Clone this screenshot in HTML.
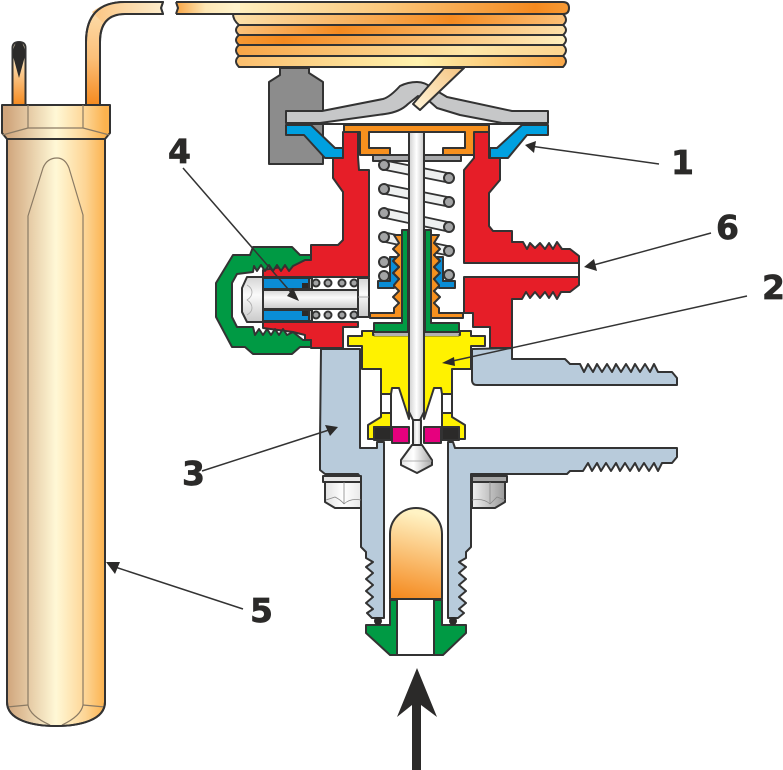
<!DOCTYPE html>
<html><head><meta charset="utf-8"><style>
html,body{margin:0;padding:0;background:#fff;width:783px;height:770px;overflow:hidden}
svg{display:block}
text{font-family:"DejaVu Sans","Liberation Sans",sans-serif;font-weight:bold;font-size:33px;fill:#2b2a29;stroke:#2b2a29;stroke-width:.7}
</style></head><body>
<svg width="783" height="770" viewBox="0 0 783 770" xmlns="http://www.w3.org/2000/svg">
<defs>
<linearGradient id="bulb" gradientUnits="userSpaceOnUse" x1="7" y1="0" x2="105" y2="0"><stop offset="0" stop-color="#d0a57c"/><stop offset=".5" stop-color="#fff8d6"/><stop offset=".8" stop-color="#fdd595"/><stop offset="1" stop-color="#fbb24e"/></linearGradient>
<linearGradient id="tube1" gradientUnits="userSpaceOnUse" x1="0" y1="105" x2="0" y2="10"><stop offset="0" stop-color="#f58a1f"/><stop offset=".5" stop-color="#fbc07a"/><stop offset="1" stop-color="#fddcaa"/></linearGradient>
<linearGradient id="tubeT" gradientUnits="userSpaceOnUse" x1="100" y1="0" x2="163" y2="0"><stop offset="0" stop-color="#fbc98a"/><stop offset="1" stop-color="#fdeccb"/></linearGradient>
<linearGradient id="tubeU" gradientUnits="userSpaceOnUse" x1="176" y1="0" x2="235" y2="0"><stop offset="0" stop-color="#f8a545"/><stop offset=".5" stop-color="#fde6b5"/><stop offset="1" stop-color="#fff3cc"/></linearGradient>
<linearGradient id="r1" gradientUnits="userSpaceOnUse" x1="233" y1="0" x2="569" y2="0"><stop offset="0" stop-color="#fff0c0"/><stop offset=".45" stop-color="#fbc87c"/><stop offset=".9" stop-color="#f58a1f"/><stop offset="1" stop-color="#f79a35"/></linearGradient>
<linearGradient id="r2" gradientUnits="userSpaceOnUse" x1="233" y1="0" x2="569" y2="0"><stop offset="0" stop-color="#fde2ac"/><stop offset=".65" stop-color="#f58a1f"/><stop offset="1" stop-color="#fcc27a"/></linearGradient>
<linearGradient id="r3" gradientUnits="userSpaceOnUse" x1="233" y1="0" x2="569" y2="0"><stop offset="0" stop-color="#fcc47e"/><stop offset=".32" stop-color="#f58a1f"/><stop offset="1" stop-color="#fde2ac"/></linearGradient>
<linearGradient id="r4" gradientUnits="userSpaceOnUse" x1="233" y1="0" x2="569" y2="0"><stop offset="0" stop-color="#f79a35"/><stop offset=".15" stop-color="#f58a1f"/><stop offset="1" stop-color="#fff0c0"/></linearGradient>
<linearGradient id="r5" gradientUnits="userSpaceOnUse" x1="233" y1="0" x2="569" y2="0"><stop offset="0" stop-color="#f8a445"/><stop offset=".7" stop-color="#fde6a8"/><stop offset="1" stop-color="#fdd48f"/></linearGradient>
<linearGradient id="r6" gradientUnits="userSpaceOnUse" x1="233" y1="0" x2="569" y2="0"><stop offset="0" stop-color="#fbbd6c"/><stop offset=".55" stop-color="#fff2ae"/><stop offset="1" stop-color="#f9a545"/></linearGradient>
<linearGradient id="stem" x1="0" y1="0" x2="1" y2="0"><stop offset="0" stop-color="#cfcfcf"/><stop offset=".5" stop-color="#fff"/><stop offset="1" stop-color="#c8c8c8"/></linearGradient>
<linearGradient id="nutL" x1="0" y1="0" x2="1" y2="0"><stop offset="0" stop-color="#e2e2e2"/><stop offset=".5" stop-color="#fff"/><stop offset="1" stop-color="#e8e8e8"/></linearGradient>
<linearGradient id="nutR" x1="0" y1="0" x2="1" y2="0"><stop offset="0" stop-color="#f0f0f0"/><stop offset="1" stop-color="#9a9a9a"/></linearGradient>
<linearGradient id="cyl" x1="0" y1="0" x2="0" y2="1"><stop offset="0" stop-color="#d5d5d5"/><stop offset=".4" stop-color="#fafafa"/><stop offset="1" stop-color="#c9c9c9"/></linearGradient>
<linearGradient id="cone" x1="0" y1="0" x2="1" y2="0"><stop offset="0" stop-color="#e5e5e5"/><stop offset=".4" stop-color="#fff"/><stop offset="1" stop-color="#a8a8a8"/></linearGradient>
<linearGradient id="dome" gradientUnits="userSpaceOnUse" x1="425" y1="515" x2="405" y2="600"><stop offset="0" stop-color="#fff3c4"/><stop offset="1" stop-color="#f58a1f"/></linearGradient>
<linearGradient id="rod" gradientUnits="userSpaceOnUse" x1="420" y1="105" x2="455" y2="70"><stop offset="0" stop-color="#fff0d0"/><stop offset="1" stop-color="#f6c98a"/></linearGradient>
<linearGradient id="sm" gradientUnits="userSpaceOnUse" x1="0" y1="105" x2="0" y2="55"><stop offset="0" stop-color="#f58a1f"/><stop offset="1" stop-color="#fdeccb"/></linearGradient>
</defs>

<g stroke="#333" stroke-width="2" stroke-linejoin="round">
<!-- sensing bulb tubes -->
<path d="M12.500 105V48Q12.500 42 19 42Q25.500 42 25.500 48V105Z" fill="url(#sm)"/>
<path d="M13 56Q13 42 19 42Q25 42 25 56L19 78Z" fill="#2b2a29" stroke="none"/>
<path d="M86 105V42Q86 2 125 2H163L161 8L163 14H125Q100 14 100 42V105Z" fill="url(#tube1)"/>
<path d="M125 2H162.500L161 8L163 14H125Q110 14 104 24L92 12Q104 2 125 2Z" fill="url(#tubeT)" stroke="none"/>
<path d="M86 105V42Q86 2 125 2H163L161 8L163 14H125Q100 14 100 42V105" fill="none"/>
<!-- bulb -->
<path d="M7 139H105V702C105 720 80 726 56 726C32 726 7 720 7 702Z" fill="url(#bulb)"/>
<path d="M2 105H110V133L105 139H7L2 133Z" fill="url(#bulb)"/>
<g fill="none" stroke="#8a7a64" stroke-width="1.200">
<path d="M28 105V128H83V105M2.500 135L28 128M109.500 135L83 128"/>
<path d="M28 705V216L43 168Q47 158 57 158Q65 158 69 168L83 215V705"/>
<path d="M28 705Q30 716 50 725M83 705Q81 716 62 725M7 707L28 705M105 707L83 705"/>
</g>
<path d="M7 139V702C7 720 32 726 56 726C80 726 105 720 105 702V139" fill="none"/>

<!-- bracket -->
<path d="M280 68H309V73L323 82V164H269V82L280 75Z" fill="#8c8c8c"/>

<!-- coil -->
<path d="M176 2H564Q569 2 569 8Q569 14 564 14H176L178 8Z" fill="url(#tubeU)" stroke="none"/>
<path d="M233 14H563Q569 20 563 25H239Q233 20 233 14Z" fill="url(#r2)"/>
<path d="M239 25H563Q569 30 563 35H239Q233 30 239 25Z" fill="url(#r3)"/>
<path d="M239 35H563Q569 40 563 45H239Q233 40 239 35Z" fill="url(#r4)"/>
<path d="M239 45H563Q569 50 563 56H239Q233 50 239 45Z" fill="url(#r5)"/>
<path d="M239 56H563Q569 61 563 67H239Q233 61 239 56Z" fill="url(#r6)"/>
<path d="M240 2H563Q569 2 569 8Q569 14 563 14H240Z" fill="url(#r1)" stroke="none"/>
<path d="M176 2H563Q569 2 569 8Q569 14 563 14H240M176 14H240M176 2L178 8L176 14" fill="none"/>

<!-- diaphragm -->
<path d="M286 111H322L383 99Q390 97 400 86Q408 82 417 82Q425 82 432 88L447 97L512 111H548V123H502L460 115L437 108L428 100L418 96L408 104Q400 112 385 114L320 123H286Z" fill="#c6c7c8"/>
<path d="M444 68H464L420 110L413 104Z" fill="url(#rod)"/>
<path d="M286 125H311L335 148H343V158H325L304 135H286Z" fill="#00a0e0"/>
<path d="M548 125H522L497 148H490V158H508L527 135H548Z" fill="#00a0e0"/>
<path d="M286 124H548" fill="none"/>

<!-- spring -->
<g stroke-linecap="butt">
<path d="M384 165L449 178M384 189L449 202M384 213L449 227M384 237L449 251" stroke="#333" stroke-width="11" fill="none"/>
<path d="M384 165L449 178M384 189L449 202M384 213L449 227M384 237L449 251" stroke="#eef0f0" stroke-width="7.500" fill="none"/>
</g>

<!-- red body -->
<path d="M343 132H358V157L359 170H369V277H263V270L294 265L305 260V255H311V245H338L343 240V192L333 178V158H343Z" fill="#e61e28"/>
<path d="M263 322H358V327H343V348H311V340H305V335L293 332L263 328Z" fill="#e61e28"/>
<path d="M474 132H489V158H500V180L489 193V226L493 231H512V242H523L527 249L530 243L535 248L540 243L545 249L549 243L553 249L557 242L562 249H570L579 256V263H464V170L474 158Z" fill="#e61e28"/>
<path d="M464 277H579V285L570 292H561L557 299L553 292L549 298L545 292L540 298L535 292L530 298L526 292L522 299H512V348H490V327H473V313H464Z" fill="#e61e28"/>
<path d="M579 262V278" fill="none"/>

<!-- orange cap -->
<path d="M344 125H489V132H474V155H443V148H465V132H369V148H390V155H360V132H344Z" fill="#f7901e"/>
<rect x="373" y="155" width="88" height="6" fill="#a8a9ab"/>

<!-- body -->
<path d="M321 349H360V448H377V442H384V618H372L367 613L373 609L366 603L373 597L366 591L373 585L366 579L373 573L366 567L373 562L366 558V552L361 547V478L358 474H325L320 470V440Z" fill="#b8cbdb"/>
<path d="M448 442H453L455 448H677V457L672 463H662L658 471L654 463L649 471L644 463L639 471L635 463L630 471L625 463L620 471L616 463L611 471L606 463L601 471L597 463L592 471L588 463L583 471H570L567 474H471V547L466 552V558L459 562L466 567L459 573L466 579L459 585L466 591L459 597L466 603L459 609L464 613L458 618H448Z" fill="#b8cbdb"/>
<path d="M472 349L512 348V359H565L570 364H580L584 372L588 364L593 372L597 364L602 372L607 364L612 372L616 364L621 372L626 364L631 372L635 364L640 372L645 364L650 372L654 364L658 372H672L677 378V385H477Q472 385 472 380Z" fill="#b8cbdb"/>

<!-- nuts -->
<path d="M323 476H361V482H323Z" fill="#e6e6e6"/>
<path d="M325 482H361V508H335L325 502Z" fill="url(#nutL)"/>
<path d="M472 476H507V482H472Z" fill="#a5a5a5"/>
<path d="M472 482H505V502L495 508H472Z" fill="url(#nutR)"/>
<path d="M326 500L335 497Q341 500 344 504M344 482V504M361 500Q350 498 344 504M472 500Q484 498 490 504M490 482V504M505 500L497 497L490 504" fill="none" stroke="#888" stroke-width=".8"/>

<!-- bushing & bellows -->
<path d="M402 230H408V332H374V323H402Z" fill="#009a44"/>
<path d="M425 230H431V323H459V332H425Z" fill="#009a44"/>
<path d="M348 336H362V331H373V335H409V419L399 388H392L391 394H381V369H362V346H348Z" fill="#fff200"/>
<path d="M485 336H471V331H460V335H424V419L434 388H441L442 394H452V369H471V346H485Z" fill="#fff200"/>
<path d="M374 334H459V336H374Z" fill="#fff" stroke-width=".8"/>
<path d="M394 235H402V318H370V313H394V308L399 303L393 297L399 291L393 285L399 279L393 273L399 267L393 261L399 255L393 249L399 243Z" fill="#f7901e"/>
<path d="M439 235H431V318H463V313H439V308L434 303L440 297L434 291L440 285L434 279L440 273L434 267L440 261L434 255L440 249L434 243Z" fill="#f7901e"/>
<path d="M390 257H396L393 261L399 267L393 273L399 279L394 285V288H378V281H390Z" fill="#0a8dd6"/>
<path d="M443 257H437L440 261L434 267L440 273L434 279L439 285V288H455V281H443Z" fill="#0a8dd6"/>
<g fill="#a3a4a5">
<circle cx="384" cy="165" r="5"/><circle cx="384" cy="189" r="5"/><circle cx="384" cy="213" r="5"/><circle cx="384" cy="237" r="5"/><circle cx="384" cy="262" r="5"/><circle cx="384" cy="276" r="5"/>
<circle cx="449" cy="178" r="5"/><circle cx="449" cy="202" r="5"/><circle cx="449" cy="227" r="5"/><circle cx="449" cy="251" r="5"/><circle cx="449" cy="275" r="5"/>
</g>

<!-- lower yellow and seals -->
<rect x="381" y="394" width="10" height="19" fill="#fff"/>
<rect x="442" y="394" width="10" height="19" fill="#fff"/>
<path d="M381 413H391V427H374V439H368V425L381 417Z" fill="#fff200"/>
<path d="M452 413H442V427H459V439H465V425L452 417Z" fill="#fff200"/>
<rect x="374" y="427" width="17" height="13" fill="#2b2a29"/>
<rect x="442" y="427" width="17" height="13" fill="#2b2a29"/>
<rect x="392" y="427" width="17" height="16" fill="#e6007e"/>
<rect x="424" y="427" width="17" height="16" fill="#e6007e"/>

<!-- stem -->
<rect x="413" y="420" width="8" height="25" fill="url(#stem)"/>
<path d="M412 445H422L432 460V465L417 473L401 465V460Z" fill="url(#cone)"/>
<path d="M401.500 461H432" fill="none" stroke="#999" stroke-width=".8"/>
<path d="M409 132H424V412L420 420H413L409 412Z" fill="url(#stem)"/>

<!-- green nut -->
<path d="M216 283L233 255H250L253 247H292L300 255H311V260H305L293 266L289 271L285 265L281 271L277 265L273 271L269 265L265 271L261 265L257 271L254 266L253 272L237 274L232 283V317L237 327H253L255 335L259 329L263 335L267 329L271 335L275 329L279 335L283 329L287 335L293 332L303 340H311V347H300L292 354H253L245 347H232L216 317Z" fill="#009a44"/>

<!-- bolt -->
<path d="M242 288L247 277H263V322H247L242 312Z" fill="url(#cyl)"/>
<rect x="263" y="290" width="95" height="19" fill="url(#cyl)"/>
<rect x="263" y="278" width="46" height="11" fill="#0a8dd6"/>
<rect x="263" y="310" width="46" height="11" fill="#0a8dd6"/>
<rect x="309" y="278" width="3" height="11" fill="#bbb"/>
<rect x="309" y="310" width="3" height="11" fill="#bbb"/>
<rect x="302" y="283" width="6" height="5" fill="#2b2a29" stroke="none"/>
<rect x="302" y="311" width="6" height="5" fill="#2b2a29" stroke="none"/>
<g fill="#a3a4a5">
<circle cx="316" cy="283" r="3.500"/><circle cx="328" cy="283" r="3.500"/><circle cx="342" cy="283" r="3.500"/><circle cx="354" cy="283" r="3.500"/>
<circle cx="316" cy="315" r="3.500"/><circle cx="328" cy="315" r="3.500"/><circle cx="342" cy="315" r="3.500"/><circle cx="354" cy="315" r="3.500"/>
</g>
<rect x="358" y="278" width="11" height="39" fill="url(#cyl)"/>
<path d="M358 297H369" fill="none" stroke="#999" stroke-width=".8"/>
<path d="M247 285Q252 288 252 292Q252 297 247 300Q252 303 252 308Q252 312 247 315" fill="none" stroke="#aaa" stroke-width=".8"/>

<!-- filter & bottom fitting -->
<path d="M390 599V534A26 26 0 0 1 442 534V599Z" fill="url(#dome)"/>
<path d="M366 625H390V600H397V655H390L366 633Z" fill="#009a44"/>
<path d="M466 625H442V600H434V655H443L466 633Z" fill="#009a44"/>
<path d="M397 655H434" fill="none"/>
<circle cx="378" cy="621" r="4" fill="#2b2a29" stroke="none"/>
<circle cx="453" cy="621" r="4" fill="#2b2a29" stroke="none"/>
</g>

<!-- leader lines -->
<g stroke="#333" stroke-width="1.500" fill="none">
<path d="M659 164L530 146"/>
<path d="M711 233L590 266"/>
<path d="M747 296L448 362"/>
<path d="M202 471L332 429"/>
<path d="M183 168L295 297"/>
<path d="M243 609L112 566"/>
</g>
<g fill="#2b2a29">
<path d="M525 145L536 141L534 153Z"/>
<path d="M584 267L594 259L597 271Z"/>
<path d="M442 363L454 357L455 366Z"/>
<path d="M338 427L325 425L330 436Z"/>
<path d="M299 301L293 288L287 296Z"/>
<path d="M106 562L120 562L115 574Z"/>
<path d="M417 668L437 717L421 705V770H412V705L397 717Z"/>
</g>

<text x="671" y="174">1</text>
<text x="716" y="239">6</text>
<text x="762" y="299">2</text>
<text x="182" y="485">3</text>
<text x="250" y="622">5</text>
<text x="168" y="163">4</text>
</svg>
</body></html>
